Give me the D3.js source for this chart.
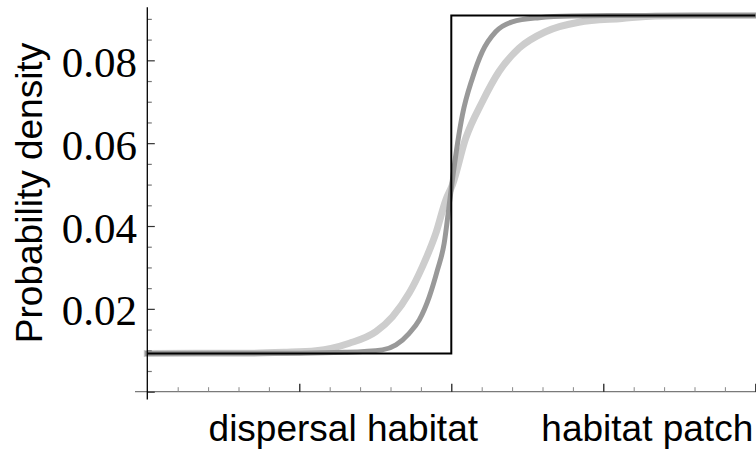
<!DOCTYPE html>
<html>
<head>
<meta charset="utf-8">
<script src="https://cdn.jsdelivr.net/npm/d3@7"></script>
<style>
  html, body { margin: 0; padding: 0; background: #fff; }
  svg { display: block; }
</style>
</head>
<body>
<svg id="chart" width="756" height="451"></svg>
<script>
// Habitat regions along the x axis and their labels
const regionLabels = ["dispersal habitat", "habitat patch"];
const regionCenters = [1, 3];

// Y tick values
const yMajorTicks = [0, 0.02, 0.04, 0.06, 0.08];
const yTickLabels = ["", "0.02", "0.04", "0.06", "0.08"];
const yMinorTicks = [0.005, 0.01, 0.015, 0.025, 0.03, 0.035, 0.045, 0.05, 0.055,
                     0.065, 0.07, 0.075, 0.085, 0.09];

// X tick values (no labels)
const xMajorTicks = [0, 1, 2, 3, 4];
const xMinorTicks = [0.2, 0.4, 0.6, 0.8, 1.2, 1.4, 1.6, 1.8, 2.2, 2.4, 2.6, 2.8,
                     3.2, 3.4, 3.6, 3.8];

// Sharp step density
const stepX = [0, 2, 2, 4];
const stepY = [0.00925, 0.00925, 0.0908, 0.0908];

// Steep smooth density (dark grey)
const darkX = [0, 1.0, 1.3, 1.546, 1.636, 1.723, 1.789, 1.855, 1.909, 1.953, 1.985,
               2.007, 2.073, 2.139, 2.204, 2.292, 2.401, 2.577, 2.793, 3.1, 4];
const darkY = [0.00925, 0.0093, 0.0095, 0.0101, 0.0113, 0.0141, 0.0173, 0.0229, 0.0294,
               0.0358, 0.0447, 0.0511, 0.0668, 0.0757, 0.0821, 0.0869, 0.0893, 0.0903,
               0.0907, 0.0908, 0.0908];

// Shallow smooth density (light grey)
const lightX = [0, 0.7, 0.9, 1.110, 1.329, 1.504, 1.613, 1.723, 1.810, 1.898, 1.964,
                2.007, 2.095, 2.204, 2.314, 2.445, 2.620, 2.839, 3.123, 3.343, 3.6, 4];
const lightY = [0.00925, 0.0093, 0.0095, 0.0099, 0.0117, 0.0145, 0.0181, 0.0238, 0.0302,
                0.0382, 0.0463, 0.0499, 0.0612, 0.0700, 0.0773, 0.0829, 0.0869, 0.0892,
                0.0901, 0.0907, 0.0908, 0.0908];

const svg = d3.select("#chart");

const x = d3.scaleLinear().domain([0, 4]).range([147.3, 755.3]);
const y = d3.scaleLinear().domain([0, 0.0928]).range([391.7, 7.3]);

const sans = "'Liberation Sans', Arial, sans-serif";
const serif = "'Liberation Serif', 'Times New Roman', serif";

// Curves
const line = d3.line()
  .x(d => x(d[0]))
  .y(d => y(d[1]))
  .curve(d3.curveMonotoneX);

const plot = svg.append("g");

plot.append("path")
  .datum(d3.zip(lightX, lightY))
  .attr("d", line)
  .attr("fill", "none")
  .attr("stroke", "#cdcdcd")
  .attr("stroke-width", 7)
  .attr("stroke-linecap", "square");

plot.append("path")
  .datum(d3.zip(darkX, darkY))
  .attr("d", line)
  .attr("fill", "none")
  .attr("stroke", "#999999")
  .attr("stroke-width", 5)
  .attr("stroke-linecap", "square");

plot.append("path")
  .datum(d3.zip(stepX, stepY))
  .attr("d", d3.line().x(d => x(d[0])).y(d => y(d[1])))
  .attr("fill", "none")
  .attr("stroke", "#000")
  .attr("stroke-width", 2);

// X axis: line, then upward ticks
const xAxisY = y(0);
svg.append("line")
  .attr("x1", 135).attr("x2", 756)
  .attr("y1", xAxisY).attr("y2", xAxisY)
  .attr("stroke", "#7a7a7a").attr("stroke-width", 1.3);

const xMinor = svg.append("g")
  .attr("transform", `translate(0,${xAxisY})`)
  .call(d3.axisTop(x).tickValues(xMinorTicks).tickSize(4.5).tickFormat(""));
const xMajor = svg.append("g")
  .attr("transform", `translate(0,${xAxisY})`)
  .call(d3.axisTop(x).tickValues(xMajorTicks.slice(1)).tickSize(8).tickFormat(""));
[xMinor, xMajor].forEach(g => g.select(".domain").remove());
xMinor.selectAll(".tick line").attr("stroke", "#888").attr("stroke-width", 1);
xMajor.selectAll(".tick line").attr("stroke", "#111").attr("stroke-width", 1.2);

// Y axis: line, then rightward ticks
const yAxisX = x(0);
const yMinor = svg.append("g")
  .attr("transform", `translate(${yAxisX},0)`)
  .call(d3.axisRight(y).tickValues(yMinorTicks).tickSize(4.5).tickFormat(""));
const yMajor = svg.append("g")
  .attr("transform", `translate(${yAxisX},0)`)
  .call(d3.axisRight(y).tickValues(yMajorTicks).tickSize(7.5).tickFormat(""));
[yMinor, yMajor].forEach(g => g.select(".domain").remove());
yMinor.selectAll(".tick line").attr("stroke", "#777").attr("stroke-width", 1.2);
yMajor.selectAll(".tick line").attr("stroke", "#333").attr("stroke-width", 1.2);

svg.append("line")
  .attr("x1", yAxisX).attr("x2", yAxisX)
  .attr("y1", 7.3).attr("y2", 399.5)
  .attr("stroke", "#000").attr("stroke-width", 1.3);

// Y tick labels
svg.append("g")
  .selectAll("text")
  .data(yMajorTicks)
  .join("text")
  .attr("x", 137)
  .attr("y", d => y(d) + 16.5)
  .attr("text-anchor", "end")
  .attr("font-family", serif)
  .attr("font-size", 43)
  .attr("fill", "#000")
  .text((d, i) => yTickLabels[i]);

// Y axis title
svg.append("text")
  .attr("transform", "translate(42,193) rotate(-90)")
  .attr("text-anchor", "middle")
  .attr("font-family", sans)
  .attr("font-size", 37)
  .attr("fill", "#000")
  .text("Probability density");

// Region labels below the x axis
svg.append("g")
  .selectAll("text")
  .data(regionLabels)
  .join("text")
  .attr("x", (d, i) => x(regionCenters[i]) + 44)
  .attr("y", 441)
  .attr("text-anchor", "middle")
  .attr("font-family", sans)
  .attr("font-size", 37)
  .attr("fill", "#000")
  .text(d => d);
</script>
</body>
</html>
